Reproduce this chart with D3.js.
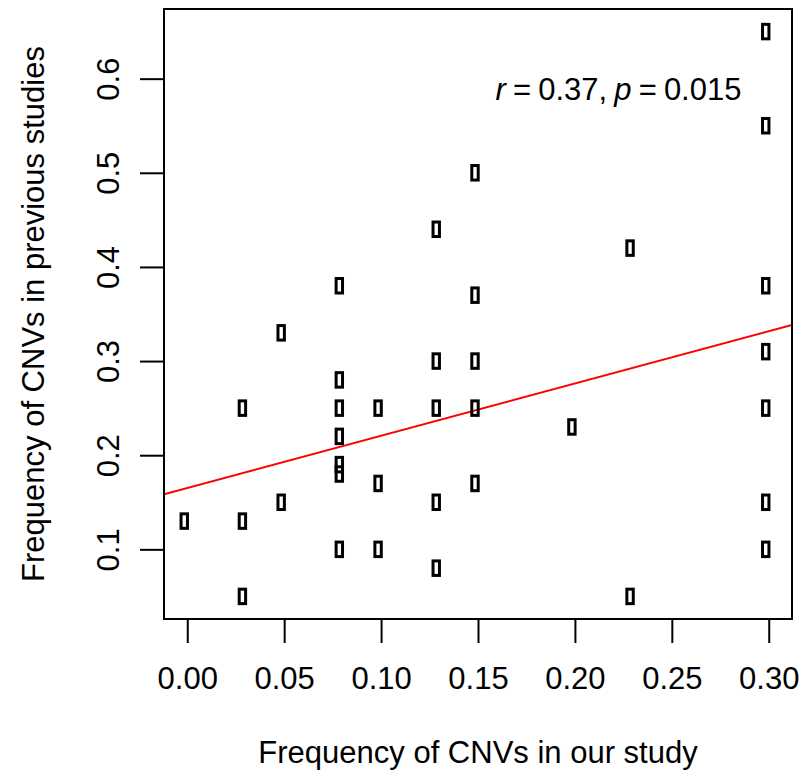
<!DOCTYPE html>
<html>
<head>
<meta charset="utf-8">
<script src="https://cdn.jsdelivr.net/npm/d3@7"></script>
<style>
    body { margin: 0; background: #fff; }
    svg { display: block; font-family: "Liberation Sans", Arial, sans-serif; }
</style>
</head>
<body>
<svg id="chart" width="805" height="776"></svg>
<script>
// frequency in our study (x) and in previous studies (y)
var ourFreq = [0.30, 0.30, 0.15, 0.13, 0.23, 0.08, 0.30, 0.15, 0.05, 0.30,
    0.13, 0.15, 0.08, 0.03, 0.08, 0.10, 0.13, 0.15, 0.30, 0.08,
    0.20, 0.08, 0.08, 0.10, 0.15, 0.05, 0.13, 0.30, 0.00, 0.03,
    0.08, 0.10, 0.30, 0.13, 0.03, 0.23];
var prevFreq = [0.65, 0.55, 0.50, 0.44, 0.42, 0.38, 0.38, 0.37, 0.33, 0.31,
    0.30, 0.30, 0.28, 0.25, 0.25, 0.25, 0.25, 0.25, 0.25, 0.22,
    0.23, 0.19, 0.18, 0.17, 0.17, 0.15, 0.15, 0.15, 0.13, 0.13,
    0.10, 0.10, 0.10, 0.08, 0.05, 0.05];

var xTicks = [0.00, 0.05, 0.10, 0.15, 0.20, 0.25, 0.30];
var yTicks = [0.1, 0.2, 0.3, 0.4, 0.5, 0.6];

// fitted line as drawn: intercept, slope
var fitCoef = [0.1652, 0.555];

var xLabel = "Frequency of CNVs in our study";
var yLabel = "Frequency of CNVs in previous studies";

var data = ourFreq.map(function (d, i) {
    return {x: d, y: prevFreq[i]};
});

// plot box, R style 4% padding on the data range
var box = {left: 164, right: 792, top: 9, bottom: 619};
var fontSize = 31;

var xScale = d3.scaleLinear().domain([-0.012, 0.312]).range([box.left, box.right]);
var yScale = d3.scaleLinear().domain([0.026, 0.674]).range([box.bottom, box.top]);

var svg = d3.select("#chart");

// fitted line, clipped to the box
svg.append("clipPath").attr("id", "plotClip")
    .append("rect")
    .attr("x", box.left).attr("y", box.top)
    .attr("width", box.right - box.left).attr("height", box.bottom - box.top);

var xd = xScale.domain();
svg.append("line")
    .attr("clip-path", "url(#plotClip)")
    .attr("x1", xScale(xd[0]))
    .attr("y1", yScale(fitCoef[0] + fitCoef[1] * xd[0]))
    .attr("x2", xScale(xd[1]))
    .attr("y2", yScale(fitCoef[0] + fitCoef[1] * xd[1]))
    .attr("stroke", "#ff0000")
    .attr("stroke-width", 2);

// points (open tall squares)
var markW = 6.4, markH = 14.5, markDx = -3;
svg.append("g")
    .attr("class", "points")
    .selectAll("rect")
    .data(data)
    .enter()
    .append("rect")
    .attr("x", function (d) { return xScale(d.x) - markW / 2 + markDx; })
    .attr("y", function (d) { return yScale(d.y) - markH / 2; })
    .attr("width", markW)
    .attr("height", markH)
    .attr("fill", "none")
    .attr("stroke", "#000")
    .attr("stroke-width", 3);

// box
svg.append("rect")
    .attr("x", box.left).attr("y", box.top)
    .attr("width", box.right - box.left).attr("height", box.bottom - box.top)
    .attr("fill", "none")
    .attr("stroke", "#000")
    .attr("stroke-width", 2);

// x axis
var xAxisG = svg.append("g")
    .attr("class", "xAxisG")
    .attr("transform", "translate(0," + box.bottom + ")")
    .call(d3.axisBottom(xScale)
        .tickValues(xTicks)
        .tickSize(24)
        .tickFormat(d3.format(".2f")));
xAxisG.select(".domain").remove();
xAxisG.selectAll(".tick line").attr("stroke", "#000").attr("stroke-width", 2);
xAxisG.selectAll(".tick text")
    .attr("y", 70)
    .attr("dy", 0)
    .attr("fill", "#000")
    .style("font-size", fontSize + "px")
    .style("font-family", "Liberation Sans, Arial, sans-serif");

// y axis, labels parallel to the axis
var yAxisG = svg.append("g")
    .attr("class", "yAxisG")
    .attr("transform", "translate(" + box.left + ",0)")
    .call(d3.axisLeft(yScale)
        .tickValues(yTicks)
        .tickSize(24)
        .tickFormat(d3.format(".1f")));
yAxisG.select(".domain").remove();
yAxisG.selectAll(".tick line").attr("stroke", "#000").attr("stroke-width", 2);
yAxisG.selectAll(".tick text")
    .attr("transform", "rotate(-90)")
    .attr("x", 0)
    .attr("y", -45)
    .attr("dy", 0)
    .attr("text-anchor", "middle")
    .attr("fill", "#000")
    .style("font-size", fontSize + "px")
    .style("font-family", "Liberation Sans, Arial, sans-serif");

// axis titles
svg.append("text")
    .attr("x", (box.left + box.right) / 2)
    .attr("y", 763)
    .attr("text-anchor", "middle")
    .style("font-size", fontSize + "px")
    .text(xLabel);

svg.append("text")
    .attr("transform", "translate(44," + (box.top + box.bottom) / 2 + ") rotate(-90)")
    .attr("text-anchor", "middle")
    .style("font-size", fontSize + "px")
    .text(yLabel);

// correlation note
var note = svg.append("text")
    .attr("x", xScale(0.2225))
    .attr("y", 100)
    .attr("text-anchor", "middle")
    .style("font-size", fontSize + "px")
    .style("word-spacing", "-1.5px");
note.append("tspan").style("font-style", "italic").text("r");
note.append("tspan").text(" = 0.37, ");
note.append("tspan").style("font-style", "italic").text("p");
note.append("tspan").text(" = 0.015");
</script>
</body>
</html>
